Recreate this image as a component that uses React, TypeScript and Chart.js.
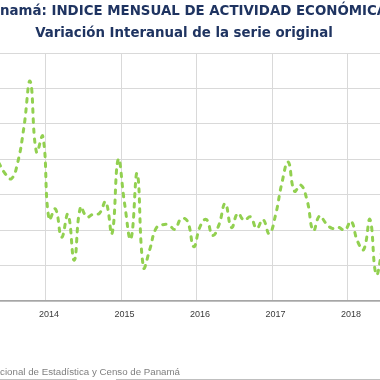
import React, { useEffect, useRef } from "react";
import { Chart, registerables } from "chart.js";

Chart.register(...registerables);

const TITLE = "Panamá: INDICE MENSUAL DE ACTIVIDAD ECONÓMICA";
const SUBTITLE = "Variación Interanual de la serie original";
const SOURCE = "Fuente: Instituto Nacional de Estadística y Censo de Panamá";

// Year tick labels (January of each year)
const YEAR_LABELS = ["2014", "2015", "2016", "2017", "2018"];
// Month index of the first value (0 = January 2014) -> May 2013
const START_MONTH = -8;
// Monthly interannual variation (%) from May 2013 to June 2018
const VALUES = [
  7.8, 7.2, 6.9, 7.8, 9.8, 12.4, 8.4, 9.3,
  4.6, 5.2, 3.6, 4.9, 2.3, 5.3, 4.75, 4.9, 4.95, 5.6, 3.8, 8.0,
  5.5, 3.5, 7.2, 1.9, 2.9, 4.1, 4.3, 4.3, 4.05, 4.65, 4.5, 3.07,
  4.2, 4.6, 3.7, 4.3, 5.5, 4.15, 4.95, 4.55, 4.75, 4.1, 4.6, 3.8,
  4.86, 6.65, 7.85, 6.2, 6.55, 5.7, 3.97, 4.8, 4.39, 4.1, 4.16, 4.0,
  4.5, 3.4, 2.9, 4.6, 1.5, 3.0,
];
const Y_MIN = 0;
const Y_MAX = 14;
const Y_STEP = 2;

const textPlugin = {
  id: "textPlugin",
  afterDraw(chart: any) {
    const ctx = chart.ctx;
    ctx.save();
    // Title
    const tf = (s: number) => `bold ${s}px "DejaVu Sans"`;
    ctx.font = tf(14);
    const visT = TITLE.slice(2, TITLE.length - 1);
    let ts = (14 * 377) / ctx.measureText(visT).width;
    ts = Math.max(11, Math.min(17, ts));
    ctx.font = tf(ts);
    const pre = ctx.measureText(TITLE.slice(0, 2)).width;
    ctx.fillStyle = "#1f3461";
    ctx.textAlign = "left";
    ctx.textBaseline = "alphabetic";
    ctx.fillText(TITLE, 0 - pre, 15);
    // Subtitle
    ctx.font = tf(14);
    let ss = (14 * 298) / ctx.measureText(SUBTITLE).width;
    ss = Math.max(11, Math.min(17, ss));
    ctx.font = tf(ss);
    ctx.textAlign = "center";
    ctx.fillText(SUBTITLE, 184, 37);
    // Source
    const sf = (s: number) => `${s}px "Liberation Sans"`;
    ctx.font = sf(10);
    const visS = SOURCE.slice(SOURCE.indexOf("cional"));
    let so = (10 * 180) / ctx.measureText(visS).width;
    so = Math.max(8, Math.min(12, so));
    ctx.font = sf(so);
    ctx.fillStyle = "#7f7f7f";
    ctx.textAlign = "right";
    ctx.fillText(SOURCE, 180, 375);
    // bottom rule
    ctx.strokeStyle = "#bfbfbf";
    ctx.lineWidth = 1;
    ctx.beginPath();
    ctx.moveTo(0, 379.5);
    ctx.lineTo(77, 379.5);
    ctx.moveTo(116, 379.5);
    ctx.lineTo(380, 379.5);
    ctx.stroke();
    ctx.restore();
  },
};

export default function App() {
  const ref = useRef<HTMLCanvasElement | null>(null);
  useEffect(() => {
    if (!ref.current) return;
    const data = VALUES.map((v, i) => ({ x: START_MONTH + i, y: v }));
    const chart = new Chart(ref.current, {
      type: "line",
      data: {
        datasets: [
          {
            data,
            borderColor: "#92d050",
            borderWidth: 3,
            borderDash: [3.5, 6.5],
            borderCapStyle: "round",
            pointRadius: 0,
            tension: 0.45,
            fill: false,
          },
        ],
      },
      options: {
        animation: false,
        responsive: false,
        devicePixelRatio: 1,
        layout: { padding: { top: 53, bottom: 52.2, left: 0, right: 0 } },
        plugins: {
          legend: { display: false },
          title: { display: false },
          tooltip: { enabled: false },
        },
        scales: {
          x: {
            type: "linear",
            min: -7.8,
            max: 52.6,
            afterBuildTicks: (scale: any) => {
              scale.ticks = YEAR_LABELS.map((_, i) => ({ value: i * 12 - 0.5 }));
            },
            ticks: {
              autoSkip: false,
              maxRotation: 0,
              padding: 8,
              labelOffset: 3,
              color: "#3a3a3a",
              font: { family: "Liberation Sans", size: 9 },
              callback: (value: any) => YEAR_LABELS[Math.round((Number(value) + 0.5) / 12)] ?? "",
            },
            grid: { color: "#d9d9d9", lineWidth: 1, drawTicks: false },
            border: { display: true, color: "#a6a6a6", width: 1.5 },
          },
          y: {
            min: Y_MIN,
            max: Y_MAX,
            ticks: { display: false, stepSize: Y_STEP },
            grid: { color: "#d9d9d9", lineWidth: 1, drawTicks: false },
            border: { display: false },
          },
        },
      },
      plugins: [textPlugin],
    });
    return () => chart.destroy();
  }, []);
  return (
    <div style={{ position: "fixed", left: 0, top: 0, width: 380, height: 380, overflow: "hidden", background: "#fff" }}>
      <canvas ref={ref} width={380} height={380} style={{ display: "block" }} />
    </div>
  );
}
